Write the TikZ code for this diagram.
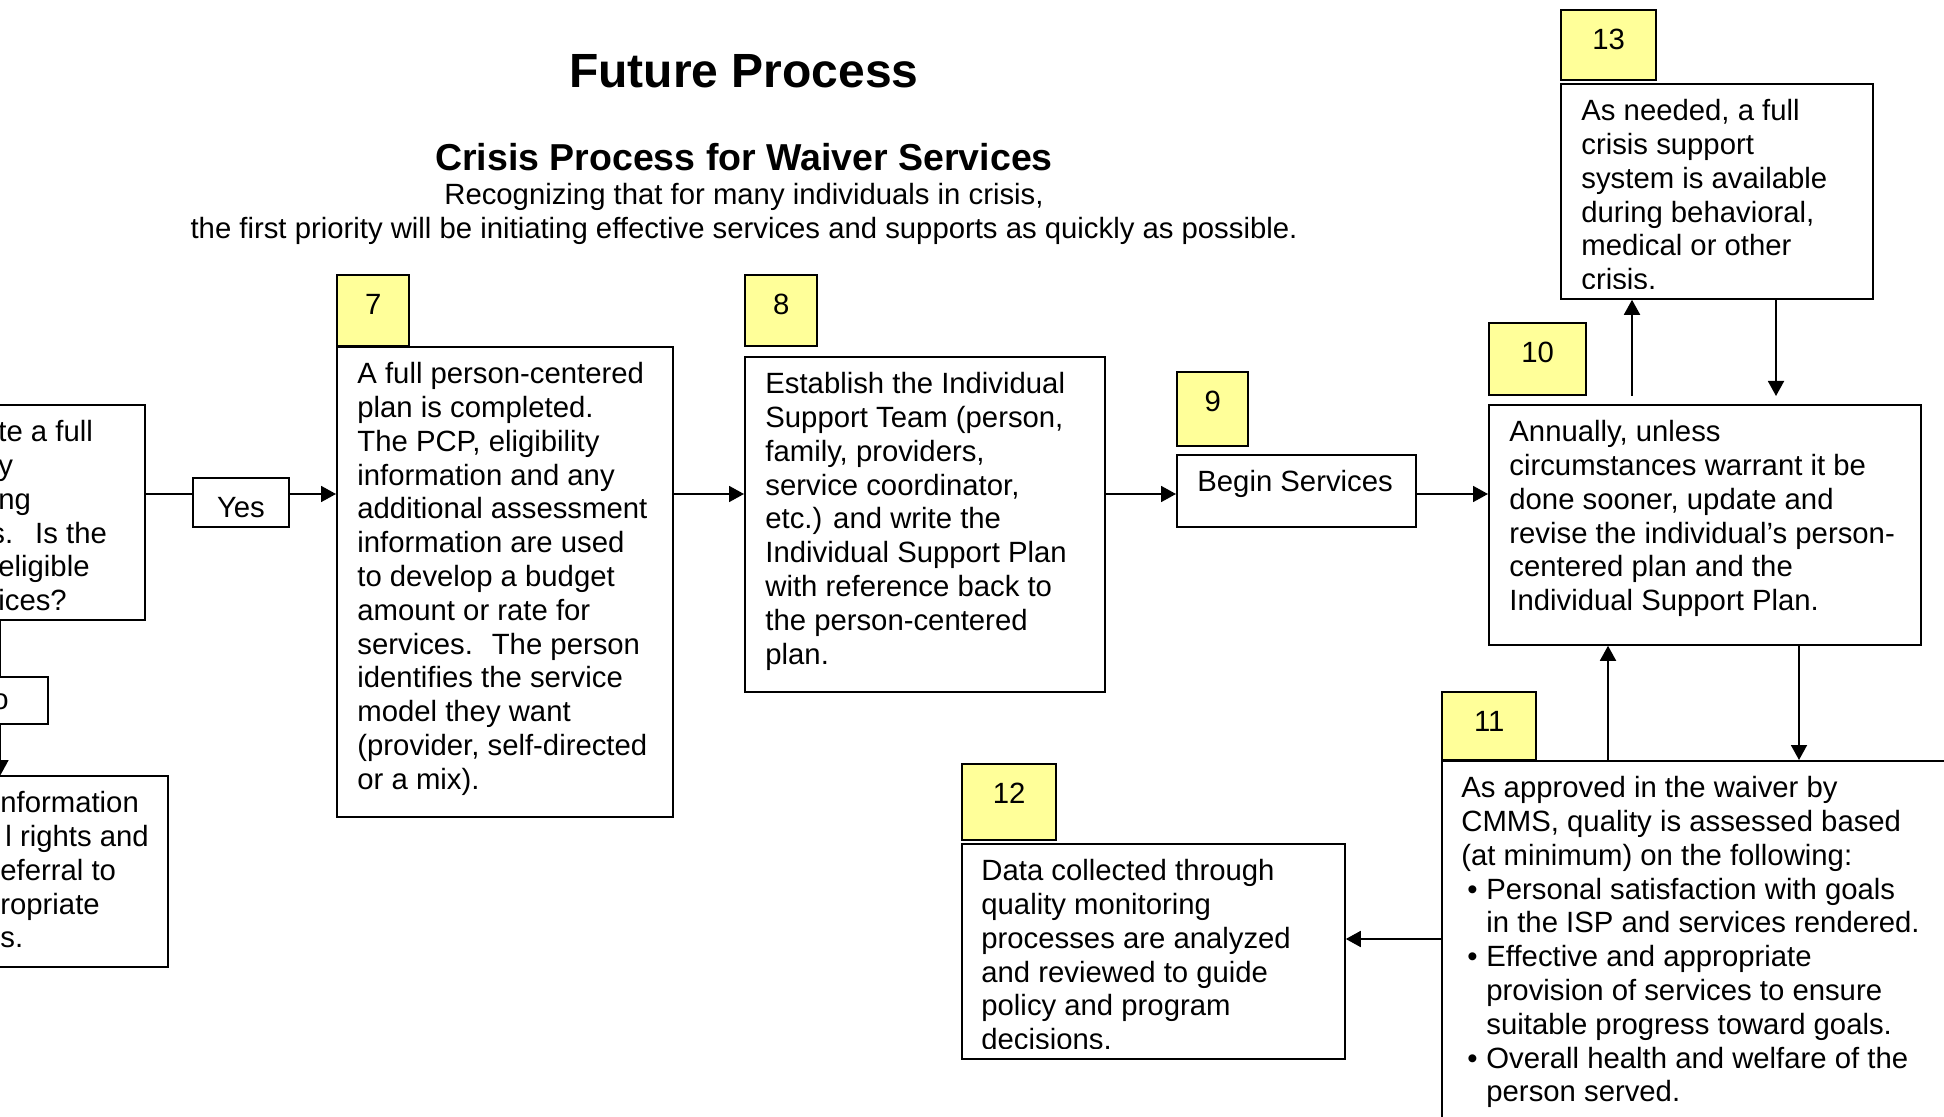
\documentclass[tikz,border=0pt]{standalone}
\usepackage{fontspec}
\setmainfont{Liberation Sans}
\usetikzlibrary{arrows.meta}
\definecolor{numyellow}{HTML}{FFFF99}
\newcommand\boxfont{\fontsize{14.65}{16.9}\selectfont}

\begin{document}
\begin{tikzpicture}[x=0.5pt,y=-0.5pt,
    frame/.style={draw, line width=0.9pt, anchor=north west, inner sep=0pt},
    numbox/.style={draw, line width=1.2pt, fill=numyellow, anchor=north west,
      inner sep=0pt, font=\boxfont, text height=19.7pt},
    txt/.style={anchor=north west, inner sep=0pt, align=left, font=\boxfont},
    arr/.style={-{Triangle[length=7.5pt,width=8pt]}, line width=0.9pt}]
      \useasboundingbox (0,0) rectangle (1944,1117);
      \clip (0,0) rectangle (1944,1117);

      % headings
      \node[font=\bfseries\fontsize{24}{28}\selectfont] (title) at (744,71) {Future Process};
      \node[font=\bfseries\fontsize{18.75}{22}\selectfont] (subtitle) at (744,157) {Crisis Process for Waiver Services};
      \node[font=\boxfont, align=center, anchor=north, inner sep=0pt] (intro) at (744,183)
            {Recognizing that for many individuals in crisis,\\the first priority will be initiating effective services and supports as quickly as possible.};

      % boxes cut at the left edge
      \node[frame, minimum width=82pt, minimum height=107.5pt] (lb) at (-20,404) {};
      \node[txt] (tlb) at (-2,420) {te a full\\y\\ng\\\hspace*{-4pt}s.\hspace{11pt}Is the\\eligible\\ices?};
      \node[frame, minimum width=33.5pt, minimum height=23.5pt] (nob) at (-20,676) {};
      \node[anchor=base west, inner sep=0pt, font=\boxfont] (tno) at (-8,709) {o};
      \node[frame, minimum width=93.5pt, minimum height=95.5pt] (blb) at (-20,775) {};
      \node[txt] (tblb) at (0,791) {nformation\\\hspace*{2.5pt}l rights and\\eferral to\\ropriate\\s.};
      \node[frame, minimum width=48pt, minimum height=24.5pt, font=\boxfont,
            text height=15pt, text depth=0pt] (yes) at (192,477) {Yes};

      % step 7
      \node[numbox, minimum width=36pt, text depth=15.8pt] (n7) at (336,274) {7};
      \node[frame, minimum width=168pt, minimum height=235pt] (b7) at (336,346) {};
      \node[txt] (t7) at ([shift={(21,16)}]b7.north west) {A full person-centered\\plan is completed.\\The PCP, eligibility\\information and any\\additional assessment\\information are used\\to develop a budget\\amount or rate for\\services.\hspace{4pt} The person\\identifies the service\\model they want\\(provider, self-directed\\or a mix).};

      % step 8
      \node[numbox, minimum width=36pt, text depth=15.8pt] (n8) at (744,274) {8};
      \node[frame, minimum width=180pt, minimum height=167.5pt] (b8) at (744,356) {};
      \node[txt] (t8) at ([shift={(21,16)}]b8.north west) {Establish the Individual\\Support Team (person,\\family, providers,\\service coordinator,\\etc.) and write the\\Individual Support Plan\\with reference back to\\the person-centered\\plan.};

      % step 9
      \node[numbox, minimum width=35.5pt, text depth=17.3pt] (n9) at (1176,371) {9};
      \node[frame, minimum width=119.5pt, minimum height=36pt] (b9) at (1176,454) {};
      \node[txt] (t9) at ([shift={(21,16)}]b9.north west) {Begin Services};

      % step 10
      \node[numbox, minimum width=48.5pt, text depth=16.3pt] (n10) at (1488,322) {10};
      \node[frame, minimum width=216pt, minimum height=120pt] (b10) at (1488,404) {};
      \node[txt] (t10) at ([shift={(21,16)}]b10.north west) {Annually, unless\\circumstances warrant it be\\done sooner, update and\\revise the individual’s person-\\centered plan and the\\Individual Support Plan.};

      % step 13
      \node[numbox, minimum width=47.5pt, text depth=15.3pt] (n13) at (1560,9) {13};
      \node[frame, minimum width=156pt, minimum height=107.5pt] (b13) at (1560,83) {};
      \begin{scope}
        \clip (b13.north west) rectangle ([yshift=5.5pt]b13.south east);
        \node[txt] (t13) at ([shift={(21,16)}]b13.north west) {As needed, a full\\crisis support\\system is available\\during behavioral,\\medical or other\\crisis.};
      \end{scope}

      % step 11
      \node[numbox, minimum width=47pt, text depth=14.3pt] (n11) at (1441,691) {11};
      \node[frame, minimum width=254.5pt, minimum height=182.5pt] (b11) at (1441,760) {};
      \node[txt] (t11) at ([shift={(20,16)}]b11.north west) {As approved in the waiver by\\CMMS, quality is assessed based\\(at minimum) on the following:\\
            \hspace*{3pt}\makebox[9.5pt][l]{\textbullet}Personal satisfaction with goals\\\hspace*{12.5pt}in the ISP and services rendered.\\
            \hspace*{3pt}\makebox[9.5pt][l]{\textbullet}Effective and appropriate\\\hspace*{12.5pt}provision of services to ensure\\\hspace*{12.5pt}suitable progress toward goals.\\
            \hspace*{3pt}\makebox[9.5pt][l]{\textbullet}Overall health and welfare of the\\\hspace*{12.5pt}person served.};

      % step 12
      \node[numbox, minimum width=47pt, text depth=18.3pt] (n12) at (961,763) {12};
      \node[frame, minimum width=191.5pt, minimum height=107.5pt] (b12) at (961,843) {};
      \begin{scope}
        \clip (b12.north west) rectangle ([yshift=5.5pt]b12.south east);
        \node[txt] (t12) at ([shift={(20,16)}]b12.north west) {Data collected through\\quality monitoring\\processes are analyzed\\and reviewed to guide\\policy and program\\decisions.};
      \end{scope}

      % connectors
      \coordinate (flow) at (0,494);
      \coordinate (leftx) at (0.5,0);
      \coordinate (up13) at (1632,0);
      \coordinate (dn13) at (1776,0);
      \coordinate (up10) at (1608,0);
      \coordinate (dn10) at (1799,0);
      \coordinate (to12) at (0,939);

      \draw[line width=0.9pt] (lb.east |- flow) -- (yes.west |- flow);
      \draw[arr] (yes.east |- flow) -- (b7.west |- flow);
      \draw[arr] (b7.east |- flow) -- (b8.west |- flow);
      \draw[arr] (b8.east |- flow) -- (b9.west |- flow);
      \draw[arr] (b9.east |- flow) -- (b10.west |- flow);

      \draw[line width=0.9pt] (lb.south -| leftx) -- (nob.north -| leftx);
      \draw[arr] (nob.south -| leftx) -- (blb.north -| leftx);

      \draw[arr, shorten <=4pt] (b10.north -| up13) -- (b13.south -| up13);
      \draw[arr, shorten >=4pt] (b13.south -| dn13) -- (b10.north -| dn13);
      \draw[arr] (b11.north -| up10) -- (b10.south -| up10);
      \draw[arr] (b10.south -| dn10) -- (b11.north -| dn10);
      \draw[arr] (b11.west |- to12) -- (b12.east |- to12);
\end{tikzpicture}
\end{document}
